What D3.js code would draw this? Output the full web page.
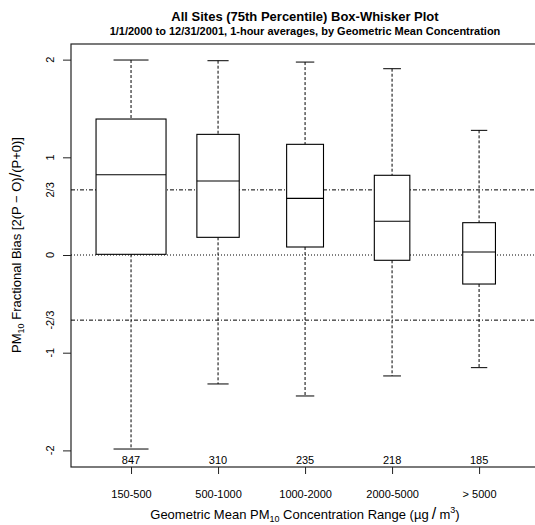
<!DOCTYPE html>
<html>
<head>
<meta charset="utf-8">
<script src="https://cdn.jsdelivr.net/npm/d3@7"></script>
<style>
  body { margin: 0; background: #fff; }
  svg { font-family: "Liberation Sans", Arial, sans-serif; }
</style>
</head>
<body>
<svg id="drawing_region"></svg>
<script>
// box-whisker values
var categories = ['150-500', '500-1000', '1000-2000', '2000-5000', '> 5000'];
var counts = [847, 310, 235, 218, 185];
var upperWhisker = [1.996, 1.989, 1.975, 1.907, 1.276];
var q3 = [1.392, 1.235, 1.133, 0.816, 0.331];
var medians = [0.822, 0.757, 0.580, 0.345, 0.031];
var q1 = [0.007, 0.181, 0.082, -0.054, -0.297];
var lowerWhisker = [-1.986, -1.320, -1.443, -1.238, -1.153];

var yTickValues = [2, 1, 2/3, 0, -2/3, -1, -2];
var yTickLabels = ['2', '1', '2/3', '0', '-2/3', '-1', '-2'];
var yTickMarks = [2, 1, 0, -1, -2];

var config = {
  parent: '#drawing_region',
  width: 535,
  height: 525,
  margin: {top: 44, right: -5, bottom: 58, left: 71}
};

var data = categories.map((c, i) => ({
  label: c, pos: i + 1, n: counts[i],
  hi: upperWhisker[i], q3: q3[i], med: medians[i], q1: q1[i], lo: lowerWhisker[i]
}));

var svg = d3.select(config.parent)
  .attr('width', config.width)
  .attr('height', config.height);

var inner_width = config.width - config.margin.left - config.margin.right;
var inner_height = config.height - config.margin.top - config.margin.bottom;

var chart = svg.append('g')
  .attr('transform', `translate(${config.margin.left}, ${config.margin.top})`);

var xscale = d3.scaleLinear()
  .domain([0.31, 5.70])
  .range([0, inner_width]);

var yscale = d3.scaleLinear()
  .domain([-2.17, 2.16])
  .range([inner_height, 0]);

// varwidth boxes: width ~ sqrt(n)
var wscale = d3.scaleSqrt()
  .domain([0, d3.max(counts)])
  .range([0, 70]);

// frame
chart.append('rect')
  .attr('x', 0).attr('y', 0)
  .attr('width', inner_width).attr('height', inner_height)
  .attr('fill', 'none').attr('stroke', '#222').attr('stroke-width', 1.2);

// reference lines
chart.append('line')
  .attr('x1', 0).attr('x2', inner_width)
  .attr('y1', yscale(0)).attr('y2', yscale(0))
  .attr('stroke', '#000').attr('stroke-dasharray', '1,2');

chart.selectAll('.ref')
  .data([2/3, -2/3])
  .join('line')
  .attr('class', 'ref')
  .attr('x1', 0).attr('x2', inner_width)
  .attr('y1', d => yscale(d)).attr('y2', d => yscale(d))
  .attr('stroke', '#000').attr('stroke-dasharray', '4,2,1,2');

// y axis
var yaxis = d3.axisLeft(yscale)
  .tickValues(yTickMarks)
  .tickSize(8)
  .tickFormat('')
  .tickSizeOuter(0);
var yaxis_group = chart.append('g').call(yaxis);
yaxis_group.select('.domain').remove();
yaxis_group.selectAll('line').attr('stroke', '#222');

chart.selectAll('.ylab')
  .data(yTickValues)
  .join('text')
  .attr('class', 'ylab')
  .attr('transform', d => `translate(-17, ${yscale(d)}) rotate(-90)`)
  .attr('text-anchor', 'middle')
  .attr('font-size', 11)
  .text((d, i) => yTickLabels[i]);

// x axis
var xaxis = d3.axisBottom(xscale)
  .tickValues(data.map(d => d.pos))
  .tickSize(7)
  .tickFormat((d, i) => categories[i])
  .tickSizeOuter(0);
var xaxis_group = chart.append('g')
  .attr('transform', `translate(0, ${inner_height})`)
  .call(xaxis);
xaxis_group.select('.domain').remove();
xaxis_group.selectAll('line').attr('stroke', '#222');
xaxis_group.selectAll('text')
  .attr('font-size', 11)
  .attr('font-family', '"Liberation Sans", Arial, sans-serif')
  .attr('fill', '#000')
  .attr('dy', 0)
  .attr('y', 31);

// boxes
var boxes = chart.selectAll('.box')
  .data(data)
  .join('g')
  .attr('class', 'box');

boxes.append('line')
  .attr('x1', d => xscale(d.pos)).attr('x2', d => xscale(d.pos))
  .attr('y1', d => yscale(d.hi)).attr('y2', d => yscale(d.q3))
  .attr('stroke', '#000').attr('stroke-dasharray', '3,2');

boxes.append('line')
  .attr('x1', d => xscale(d.pos)).attr('x2', d => xscale(d.pos))
  .attr('y1', d => yscale(d.q1)).attr('y2', d => yscale(d.lo))
  .attr('stroke', '#000').attr('stroke-dasharray', '3,2');

boxes.append('line')
  .attr('x1', d => xscale(d.pos) - wscale(d.n) / 4).attr('x2', d => xscale(d.pos) + wscale(d.n) / 4)
  .attr('y1', d => yscale(d.hi)).attr('y2', d => yscale(d.hi))
  .attr('stroke', '#000');

boxes.append('line')
  .attr('x1', d => xscale(d.pos) - wscale(d.n) / 4).attr('x2', d => xscale(d.pos) + wscale(d.n) / 4)
  .attr('y1', d => yscale(d.lo)).attr('y2', d => yscale(d.lo))
  .attr('stroke', '#000');

boxes.append('rect')
  .attr('x', d => xscale(d.pos) - wscale(d.n) / 2)
  .attr('width', d => wscale(d.n))
  .attr('y', d => yscale(d.q3))
  .attr('height', d => yscale(d.q1) - yscale(d.q3))
  .attr('fill', '#fff').attr('stroke', '#000').attr('stroke-width', 1.1);

boxes.append('line')
  .attr('x1', d => xscale(d.pos) - wscale(d.n) / 2).attr('x2', d => xscale(d.pos) + wscale(d.n) / 2)
  .attr('y1', d => yscale(d.med)).attr('y2', d => yscale(d.med))
  .attr('stroke', '#000').attr('stroke-width', 1.1);

// counts
boxes.append('text')
  .attr('x', d => xscale(d.pos))
  .attr('y', inner_height - 3)
  .attr('text-anchor', 'middle')
  .attr('font-size', 11)
  .text(d => d.n);

// titles
svg.append('text')
  .attr('x', 305).attr('y', 21)
  .attr('text-anchor', 'middle')
  .attr('font-size', 13).attr('font-weight', 'bold')
  .text('All Sites (75th Percentile) Box-Whisker Plot');

svg.append('text')
  .attr('x', 305).attr('y', 35)
  .attr('text-anchor', 'middle')
  .attr('font-size', 11).attr('font-weight', 'bold')
  .text('1/1/2000 to 12/31/2001, 1-hour averages, by Geometric Mean Concentration');

var xt = svg.append('text')
  .attr('x', 305).attr('y', 519)
  .attr('text-anchor', 'middle')
  .attr('font-size', 13);
xt.append('tspan').text('Geometric Mean PM');
xt.append('tspan').attr('font-size', 9).attr('dy', 3).text('10');
xt.append('tspan').attr('dy', -3).text(' Concentration Range (\u00b5g');
xt.append('tspan').attr('font-size', 16).text('\u2009/\u2009');
xt.append('tspan').text('m');
xt.append('tspan').attr('font-size', 9).attr('dy', -6).text('3');
xt.append('tspan').attr('dy', 6).text(')');

var yt = svg.append('text')
  .attr('transform', `translate(21, 245) rotate(-90)`)
  .attr('text-anchor', 'middle')
  .attr('font-size', 13);
yt.append('tspan').text('PM');
yt.append('tspan').attr('font-size', 9).attr('dy', 3).text('10');
yt.append('tspan').attr('dy', -3).text(' Fractional Bias [2(P \u2212 O)');
yt.append('tspan').attr('font-size', 16).text('/');
yt.append('tspan').text('(P+0)]');
</script>
</body>
</html>
